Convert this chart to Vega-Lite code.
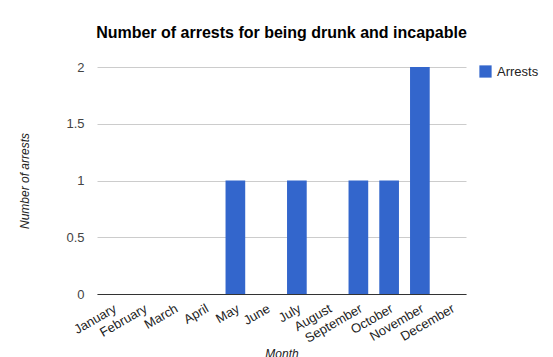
{
  "$schema": "https://vega.github.io/schema/vega-lite/v6.json",
  "autosize": "none",
  "width": 369,
  "height": 227,
  "padding": {"left": 97, "top": 67, "right": 87, "bottom": 63},
  "background": "white",
  "config": {
    "font": "Liberation Sans",
    "view": {"stroke": null}
  },
  "title": {
    "text": "Number of arrests for being drunk and incapable",
    "fontSize": 16,
    "fontWeight": "bold",
    "color": "#000000",
    "anchor": "middle",
    "offset": 20
  },
  "data": {
    "values": [
      {"month": "January", "series": "Arrests", "arrests": 0},
      {"month": "February", "series": "Arrests", "arrests": 0},
      {"month": "March", "series": "Arrests", "arrests": 0},
      {"month": "April", "series": "Arrests", "arrests": 0},
      {"month": "May", "series": "Arrests", "arrests": 1},
      {"month": "June", "series": "Arrests", "arrests": 0},
      {"month": "July", "series": "Arrests", "arrests": 1},
      {"month": "August", "series": "Arrests", "arrests": 0},
      {"month": "September", "series": "Arrests", "arrests": 1},
      {"month": "October", "series": "Arrests", "arrests": 1},
      {"month": "November", "series": "Arrests", "arrests": 2},
      {"month": "December", "series": "Arrests", "arrests": 0}
    ]
  },
  "mark": {"type": "bar"},
  "encoding": {
    "x": {
      "field": "month",
      "type": "nominal",
      "sort": null,
      "scale": {"paddingInner": 0.36, "paddingOuter": 0.18},
      "axis": {
        "title": "Month",
        "titleFontStyle": "italic",
        "titleFontWeight": "normal",
        "titleFontSize": 12,
        "titleColor": "#222222",
        "titlePadding": 3,
        "labelAngle": -30,
        "labelAlign": "right",
        "labelBaseline": "top",
        "labelFontSize": 13,
        "labelColor": "#222222",
        "labelPadding": 8,
        "labelDx": -3,
        "labelOverlap": false,
        "ticks": false,
        "domainColor": "#333333",
        "domainWidth": 1,
        "grid": false
      }
    },
    "y": {
      "field": "arrests",
      "type": "quantitative",
      "scale": {"domain": [0, 2]},
      "axis": {
        "title": "Number of arrests",
        "titleFontStyle": "italic",
        "titleFontWeight": "normal",
        "titleFontSize": 12,
        "titleColor": "#222222",
        "titlePadding": 34,
        "values": [0, 0.5, 1, 1.5, 2],
        "format": "~g",
        "labelFontSize": 13,
        "labelColor": "#444444",
        "labelPadding": 13,
        "ticks": false,
        "domain": false,
        "gridColor": "#cccccc"
      }
    },
    "color": {
      "field": "series",
      "type": "nominal",
      "scale": {"range": ["#3366cc"]},
      "legend": {
        "title": null,
        "orient": "none",
        "legendX": 382,
        "legendY": -2,
        "symbolType": "square",
        "symbolSize": 150,
        "symbolStrokeWidth": 0,
        "labelFontSize": 13,
        "labelColor": "#222222",
        "labelOffset": 5
      }
    }
  }
}
